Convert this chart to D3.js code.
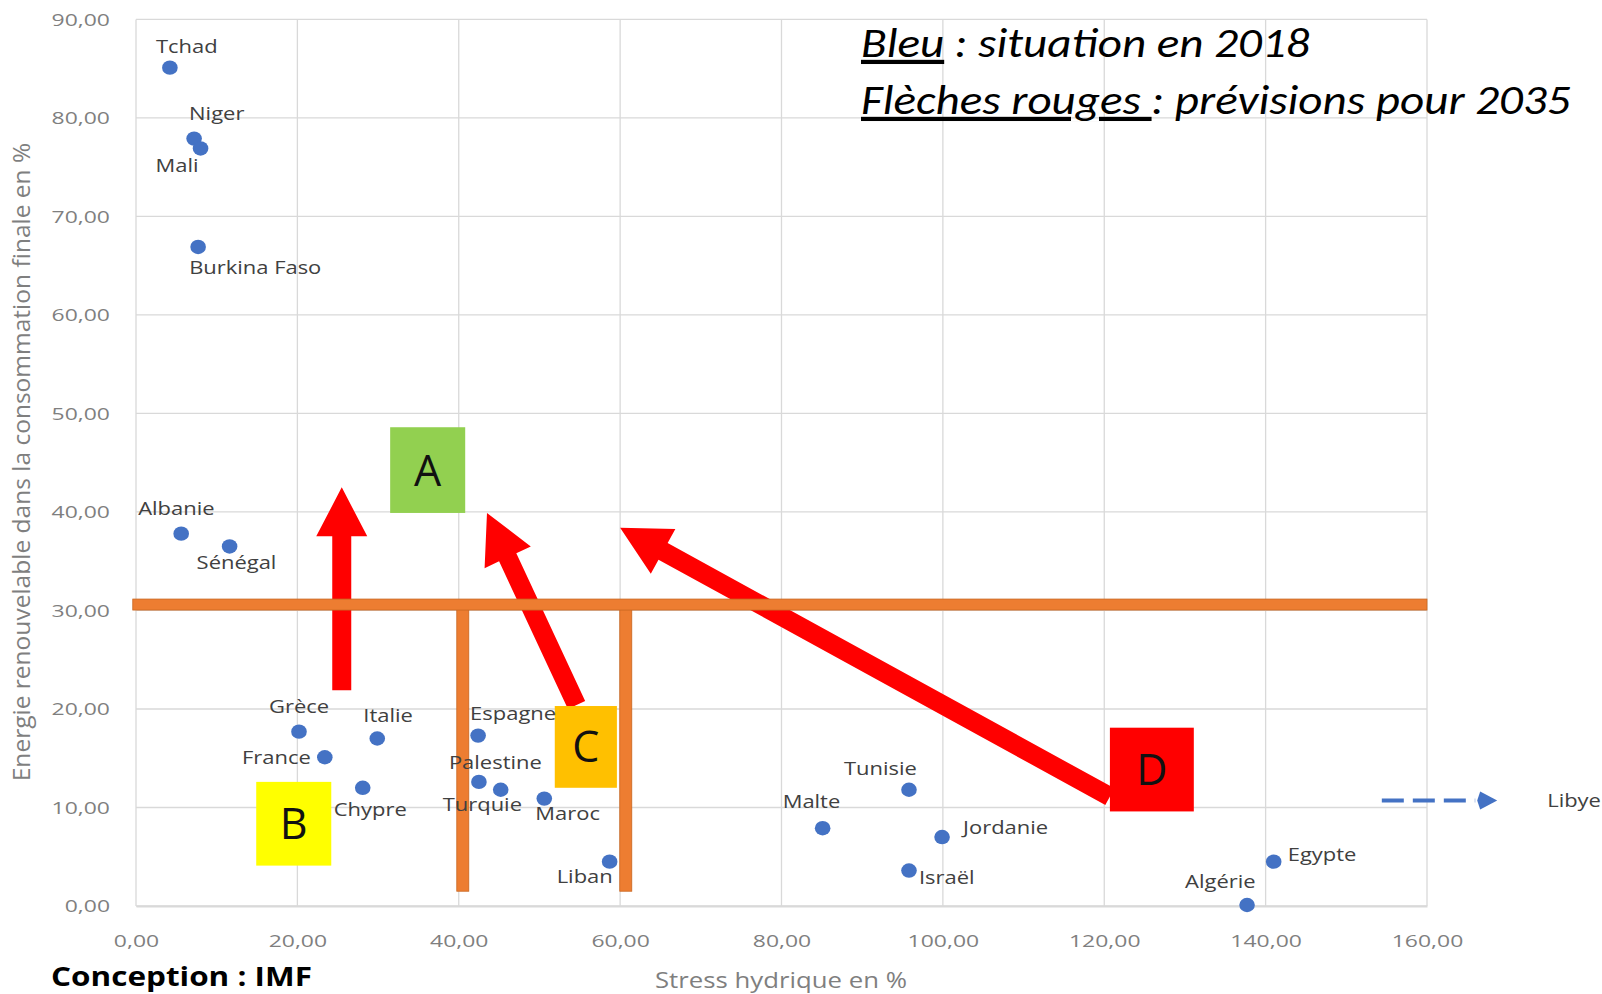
<!DOCTYPE html>
<html><head><meta charset="utf-8">
<script src="https://cdn.jsdelivr.net/npm/d3@7"></script>
<style>body{margin:0;background:#fff;overflow:hidden} svg{display:block}</style>
</head><body>
<svg id="c" width="1602" height="994"></svg>
<script>
// ---------- DATA ----------
const countries = ["Tchad","Niger","Mali","Burkina Faso","Albanie","Sénégal","Grèce","France","Italie","Chypre","Espagne","Palestine","Turquie","Maroc","Liban","Malte","Tunisie","Jordanie","Israël","Algérie","Egypte"];
const waterStress = [4.2,7.2,8.0,7.7,5.6,11.6,20.2,23.4,29.9,28.1,42.4,42.5,45.2,50.6,58.7,85.1,95.8,99.9,95.8,137.7,141.0];
const renewableShare = [85.1,77.9,76.9,66.9,37.8,36.5,17.7,15.1,17.0,12.0,17.3,12.6,11.8,10.9,4.5,7.9,11.8,7.0,3.6,0.1,4.5];
const xTicks = [0,20,40,60,80,100,120,140,160];
const yTicks = [0,10,20,30,40,50,60,70,80,90];
const groupNames = ["A","B","C","D"];
const groupX0 = [31.5,14.9,51.9,120.7];
const groupX1 = [40.8,24.2,59.6,131.1];
const groupY0 = [39.9,4.1,12.0,9.6];
const groupY1 = [48.6,12.6,20.3,18.1];
const thresholdY = 30.6;
const thresholdX = [40.5,60.7];
const thresholdBottom = 1.5;
const arrowFromX = [25.5,54.6,120.7];
const arrowFromY = [21.9,20.4,11.1];
const arrowToX = [25.5,43.5,60.0];
const arrowToY = [42.5,39.9,38.4];
const offChartName = "Libye";
const offChartArrowX = [154.4,168.7];
const offChartY = 10.7;
const xTitle = "Stress hydrique en %";
const yTitle = "Energie renouvelable dans la consommation finale en %";
const legendLine1 = ["Bleu"," : situation en 2018"];
const legendLine2 = ["Flèches rouges ",": prévisions pour 2035"];
const credit = "Conception : IMF";

// ---------- LAYOUT (label placement, px relative to point) ----------
const labelPos = {
  "Tchad":[-14,-21,"start"],"Niger":[-5,-25,"start"],"Mali":[-45,17,"start"],
  "Burkina Faso":[-9,21,"start"],"Albanie":[-43,-25,"start"],"Sénégal":[-33,16,"start"],
  "Grèce":[-30,-25,"start"],"France":[-14,0,"end"],"Italie":[-14,-23,"start"],
  "Chypre":[-29,22,"start"],"Espagne":[-8,-22,"start"],"Palestine":[-30,-19,"start"],
  "Turquie":[-58,15,"start"],"Maroc":[-9,15,"start"],"Liban":[-53,15,"start"],
  "Malte":[-40,-26,"start"],"Tunisie":[-65,-21,"start"],"Jordanie":[21,-9,"start"],
  "Israël":[10,7,"start"],"Algérie":[-62,-23,"start"],"Egypte":[14,-7,"start"]
};

const svg = d3.select("#c");
const X = d3.scaleLinear().domain([0,160]).range([136,1427]);
const Y = d3.scaleLinear().domain([0,90]).range([906,19.4]);
const loc = d3.formatLocale({decimal:",",thousands:" ",grouping:[3],currency:["","€"]});
const fmt = loc.format(".2f");
const FONT = "'Open Sans', 'Noto Sans', sans-serif";
const SX = 1.22;

// gridlines
const grid = svg.append("g");
grid.selectAll("line.v").data(xTicks).join("line")
  .attr("x1",d=>X(d)).attr("x2",d=>X(d)).attr("y1",Y(90)).attr("y2",Y(0))
  .attr("stroke","#d9d9d9").attr("stroke-width",1.3);
grid.selectAll("line.h").data(yTicks).join("line")
  .attr("x1",X(0)).attr("x2",X(160)).attr("y1",d=>Y(d)).attr("y2",d=>Y(d))
  .attr("stroke","#d9d9d9").attr("stroke-width",1.3);

// axes (labels only)
const xAxis = svg.append("g").attr("transform",`translate(0,${Y(0)})`)
  .call(d3.axisBottom(X).tickValues(xTicks).tickFormat(fmt).tickSize(0));
xAxis.select(".domain").attr("stroke","#d9d9d9").attr("stroke-width",2);
xAxis.selectAll("text").attr("y",0).attr("dy","0.35em")
  .attr("transform","translate(0,35) scale(1.35,1)")
  .attr("font-family",FONT).attr("font-size",17).attr("fill","#7f7f7f");
const yAxis = svg.append("g").attr("transform",`translate(${X(0)},0)`)
  .call(d3.axisLeft(Y).tickValues(yTicks).tickFormat(fmt).tickSize(0));
yAxis.select(".domain").remove();
yAxis.selectAll("text").attr("x",0).attr("dy","0.35em").attr("text-anchor","end")
  .attr("transform","translate(-26,0) scale(1.35,1)")
  .attr("font-family",FONT).attr("font-size",17).attr("fill","#7f7f7f");

// axis titles
function fitScale(sel, target){ const w = sel.node().getComputedTextLength(); return target / w; }
const xt = svg.append("text").text(xTitle).attr("font-family",FONT).attr("font-size",21)
  .attr("fill","#7f7f7f").attr("text-anchor","middle");
xt.attr("transform",`translate(781,988) scale(${fitScale(xt,252)},1)`);
const yt = svg.append("text").text(yTitle).attr("font-family",FONT).attr("font-size",20)
  .attr("fill","#7f7f7f").attr("text-anchor","middle");
yt.attr("transform",`translate(30,462) rotate(-90) scale(${fitScale(yt,639)},1.2)`);

// arrows
function arrowPath(x0,y0,x1,y1){
  const w=19, hw=51, hl=49;
  const dx=x1-x0, dy=y1-y0, L=Math.hypot(dx,dy);
  const ux=dx/L, uy=dy/L, nx=-uy, ny=ux;
  const bx=x1-ux*hl, by=y1-uy*hl;
  const p=[[x0+nx*w/2,y0+ny*w/2],[bx+nx*w/2,by+ny*w/2],[bx+nx*hw/2,by+ny*hw/2],[x1,y1],
           [bx-nx*hw/2,by-ny*hw/2],[bx-nx*w/2,by-ny*w/2],[x0-nx*w/2,y0-ny*w/2]];
  return "M"+p.map(q=>q.join(",")).join("L")+"Z";
}
svg.append("g").selectAll("path").data(arrowFromX).join("path")
  .attr("d",(d,i)=>arrowPath(X(arrowFromX[i]),Y(arrowFromY[i]),X(arrowToX[i]),Y(arrowToY[i])))
  .attr("fill","#ff0000");

// orange threshold lines
const og = svg.append("g");
og.selectAll("rect.v").data(thresholdX).join("rect")
  .attr("x",d=>X(d)-6).attr("width",12).attr("y",Y(thresholdY)).attr("height",Y(thresholdBottom)-Y(thresholdY))
  .attr("fill","#ed7d31").attr("stroke","#c8661f").attr("stroke-width",0.8);
og.append("rect").attr("x",X(-0.4)).attr("width",X(160)-X(-0.4))
  .attr("y",Y(thresholdY)-5.5).attr("height",11)
  .attr("fill","#ed7d31").attr("stroke","#c8661f").attr("stroke-width",0.8);

// group boxes
const boxColors = ["#92d050","#ffff00","#ffc000","#ff0000"];
const bg = svg.append("g");
bg.selectAll("rect").data(groupNames).join("rect")
  .attr("x",(d,i)=>X(groupX0[i])).attr("width",(d,i)=>X(groupX1[i])-X(groupX0[i]))
  .attr("y",(d,i)=>Y(groupY1[i])).attr("height",(d,i)=>Y(groupY0[i])-Y(groupY1[i]))
  .attr("fill",(d,i)=>boxColors[i]);
bg.selectAll("text").data(groupNames).join("text")
  .attr("x",(d,i)=>X((groupX0[i]+groupX1[i])/2)).attr("y",(d,i)=>Y((groupY0[i]+groupY1[i])/2))
  .attr("dy","0.36em").attr("text-anchor","middle")
  .attr("font-family",FONT).attr("font-size",43).attr("fill","#111").text(d=>d);

// points
svg.append("g").selectAll("ellipse").data(countries).join("ellipse")
  .attr("cx",(d,i)=>X(waterStress[i])).attr("cy",(d,i)=>Y(renewableShare[i]))
  .attr("rx",7.8).attr("ry",7.2).attr("fill","#4472c4");

// labels
svg.append("g").selectAll("text").data(countries).join("text")
  .attr("transform",(d,i)=>`translate(${X(waterStress[i])+labelPos[d][0]},${Y(renewableShare[i])+labelPos[d][1]}) scale(${SX},1)`)
  .attr("text-anchor",d=>labelPos[d][2]).attr("dy","0.35em")
  .attr("font-family",FONT).attr("font-size",18).attr("fill","#404040").text(d=>d);

// off-chart (Libye) dashed arrow
const lx0 = X(offChartArrowX[0]), lx1 = X(offChartArrowX[1]), ly = Y(offChartY);
svg.append("line").attr("x1",lx0).attr("x2",lx1-22).attr("y1",ly).attr("y2",ly)
  .attr("stroke","#4472c4").attr("stroke-width",4).attr("stroke-dasharray","22,9");
svg.append("path").attr("d",`M${lx1},${ly}L${lx1-17},${ly-9}L${lx1-20},${ly}L${lx1-17},${ly+9}Z`)
  .attr("fill","#4472c4");
svg.append("text").attr("transform",`translate(${lx1+50},${ly}) scale(${SX},1)`)
  .attr("dy","0.35em").attr("font-family",FONT).attr("font-size",18).attr("fill","#404040").text(offChartName);

// legend
const LFONT = "Carlito, 'Open Sans', sans-serif";
const l2 = svg.append("text").attr("font-family",LFONT).attr("font-style","italic").attr("font-size",42).attr("fill","#000");
l2.append("tspan").attr("text-decoration","underline").text(legendLine2[0]);
l2.append("tspan").text(legendLine2[1]);
const lsx = fitScale(l2,710);
l2.attr("transform",`translate(861,114) scale(${lsx},1)`);
const l1 = svg.append("text").attr("font-family",LFONT).attr("font-style","italic").attr("font-size",42).attr("fill","#000");
l1.append("tspan").attr("text-decoration","underline").text(legendLine1[0]);
l1.append("tspan").text(legendLine1[1]);
l1.attr("transform",`translate(861,57) scale(${lsx},1)`);

// credit
const cr = svg.append("text").text(credit).attr("font-family",FONT).attr("font-weight","bold")
  .attr("font-size",26).attr("fill","#000");
cr.attr("transform",`translate(51,986) scale(${fitScale(cr,261)},1)`);
</script>
</body></html>
